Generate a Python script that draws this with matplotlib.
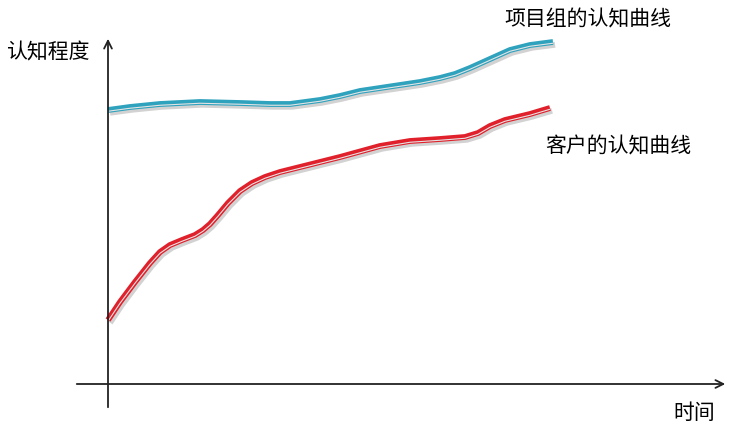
import matplotlib.pyplot as plt
import matplotlib.patheffects as pe

plt.rcParams['font.family'] = ['Noto Sans CJK SC', 'DejaVu Sans']

# 曲线数据（读取自参考图，单位为画布像素）
team_x = [108, 130, 160, 200, 240, 270, 290, 305, 320, 340, 360, 380, 400, 420, 440, 455, 470, 490, 510, 530, 553]
team_y = [110, 107, 104, 102, 103, 104, 104, 102, 100, 96, 91, 88, 85, 82, 78, 74, 68, 59, 50, 45, 42]

client_x = [108, 120, 135, 150, 160, 170, 182, 195, 203, 210, 218, 228, 240, 252, 265, 280, 300, 340, 380, 410, 440, 465, 478, 490, 505, 530, 550]
client_y = [320, 302, 282, 263, 252, 245, 240, 235, 230, 224, 215, 203, 191, 183, 177, 172, 167, 157, 146, 141, 139, 137, 133, 126, 120, 114, 108]

team_label = '项目组的认知曲线'
client_label = '客户的认知曲线'
y_label = '认知程度'
x_label = '时间'

fig = plt.figure(figsize=(7.39, 4.34), dpi=100)
ax = fig.add_axes([0, 0, 1, 1])
ax.set_xlim(0, 739)
ax.set_ylim(434, 0)
ax.axis('off')

# 坐标轴
ax.annotate('', xy=(108, 36), xytext=(108, 410),
            arrowprops=dict(arrowstyle='->', color='#222222', lw=1.3, mutation_scale=14))
ax.annotate('', xy=(728, 384), xytext=(74, 384),
            arrowprops=dict(arrowstyle='->', color='#222222', lw=1.3, mutation_scale=14))

effects = [pe.SimpleLineShadow(offset=(1.5, -2), shadow_color='gray', alpha=0.35),
           pe.Normal(),
           pe.Stroke(offset=(0, -0.9), linewidth=0.8, foreground='#e4e4e4')]

ax.plot(team_x, team_y, color='#2fa2bd', lw=4.2, solid_capstyle='butt',
        solid_joinstyle='round', path_effects=effects)
ax.plot(client_x, client_y, color='#e0202b', lw=4.2, solid_capstyle='butt',
        solid_joinstyle='round', path_effects=effects)

ax.text(6, 52, y_label, fontsize=15, va='center', ha='left')
ax.text(504, 19, team_label, fontsize=15, va='center', ha='left')
ax.text(545, 146, client_label, fontsize=15, va='center', ha='left')
ax.text(673, 413, x_label, fontsize=15, va='center', ha='left')

fig.savefig('out.png', dpi=100)
